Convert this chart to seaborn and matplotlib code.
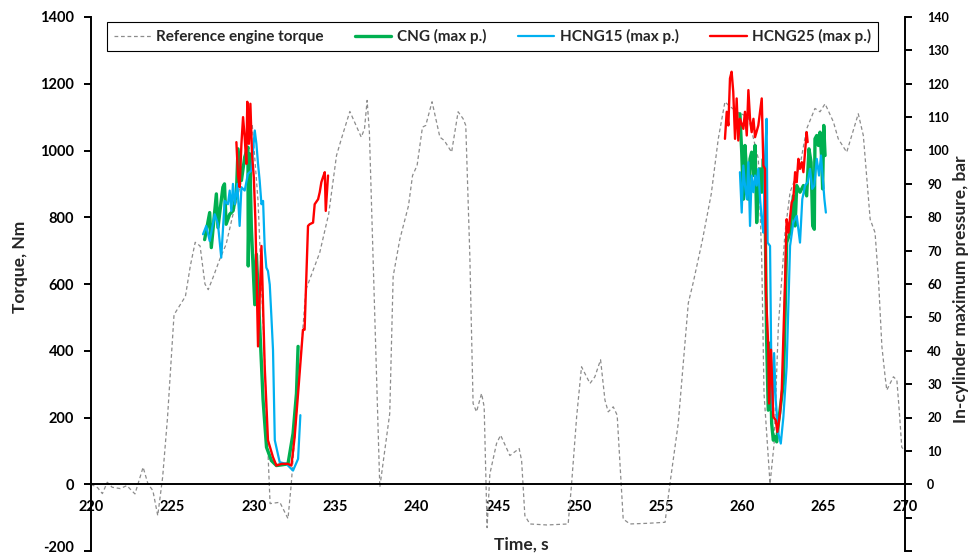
import numpy as np
import pandas as pd
import matplotlib
matplotlib.use("Agg")
import matplotlib.pyplot as plt
import matplotlib.transforms as mtransforms
from matplotlib.lines import Line2D
import seaborn as sns

# ---------------- data ----------------
ref_time = [220.0, 220.4, 220.7, 221.0, 221.3, 221.8, 222.2, 222.7, 223.2, 223.5, 223.8, 224.1,
            224.4, 224.7, 225.1, 225.8, 226.1, 226.4, 226.7, 227.0, 227.2, 227.5, 227.9, 228.3,
            228.7, 229.2, 229.6, 229.9, 230.26, 230.6, 230.9, 231.0, 231.6, 232.1, 232.3, 232.8,
            233.2, 234.05, 234.6, 235.08, 235.38, 235.9, 236.6, 236.8, 236.96, 237.1, 237.74,
            238.35, 238.56, 238.97, 239.5, 239.75, 240.03, 240.36, 240.56, 240.95, 241.43, 241.7,
            242.15, 242.55, 242.86, 243.02, 243.27, 243.47, 243.68, 243.99, 244.15, 244.33, 244.5,
            244.91, 245.16, 245.73, 246.3, 246.45, 246.65, 246.96, 248.0, 249.31, 249.52, 249.83,
            250.13, 250.65, 250.95, 251.3, 251.57, 251.77, 252.08, 252.32, 252.69, 253.1, 254.2,
            255.26, 255.56, 256.07, 256.69, 256.99, 257.55, 258.1, 258.53, 258.94, 259.15, 259.66,
            260.38, 260.99, 261.2, 261.34, 261.71, 261.96, 262.22, 262.63, 262.94, 263.55, 263.96,
            264.47, 264.78, 265.09, 265.6, 265.9, 266.42, 267.13, 267.44, 267.86, 268.16, 268.37,
            268.58, 268.78, 268.88, 269.29, 269.5, 269.66, 269.8, 270.0]
ref_torque = [0, -10, -28, 6, -9, -13, -4, -29, 51, 1, -19, -94,
              21, 200, 508, 563, 654, 725, 714, 600, 583, 620, 673, 719,
              804, 900, 1040, 1080, 849, 450, 60, -58, -54, -103, 0, 333,
              583, 694, 810, 985, 1035, 1117, 1040, 1065, 1150, 1055, -9,
              212, 623, 734, 834, 925, 955, 1070, 1075, 1146, 1040, 1030,
              995, 1116, 1095, 1075, 684, 242, 217, 272, 232, -130, 31,
              122, 147, 86, 107, 71, -94, -119, -122, -119, 1, 202,
              352, 302, 322, 373, 252, 217, 232, 207, -104, -119, -117,
              -114, 1, 182, 543, 604, 730, 870, 1035, 1146, 1136, 1116,
              1100, 975, 674, 272, 1, 122, 473, 754, 875, 955, 1065,
              1126, 1116, 1140, 1086, 1035, 995, 1110, 1045, 794, 754, 614,
              413, 322, 282, 322, 312, 212, 111, 100]

cng_time_a = [226.98, 227.29, 227.39, 227.7, 227.8, 228.1, 228.2, 228.3, 228.52, 228.72, 228.93,
              229.03, 229.24, 229.44, 229.64, 229.66, 229.75, 229.85, 230.06, 230.16, 230.36, 230.57,
              230.78, 231.08, 231.39, 231.7, 232.1, 232.41, 232.62, 232.72]
cng_p_a = [73.3, 81.4, 70.9, 87.0, 76.9, 89.0, 90.0, 77.9, 80.9, 81.9, 87.0,
           100.5, 91.0, 98.0, 101.0, 65.4, 99.0, 76.9, 53.8, 68.9, 47.8, 25.2,
           11.1, 7.1, 5.6, 5.8, 6.1, 15.2, 27.2, 41.3]
cng_time_b = [259.86, 259.97, 260.07, 260.17, 260.28, 260.38, 260.48, 260.58, 260.69, 260.79, 260.89,
              260.99, 261.1, 261.2, 261.3, 261.4, 261.5, 261.6, 261.71, 261.81, 261.91, 262.01,
              262.12, 262.22, 262.53, 262.63, 262.73, 262.94, 263.14, 263.25, 263.35, 263.55, 263.76,
              263.96, 264.1, 264.23, 264.33, 264.43, 264.47, 264.58, 264.68, 264.78, 264.88, 264.94,
              265.01, 265.09]
cng_p_b = [111.0, 99.5, 85.4, 101.5, 92.5, 85.4, 97.5, 99.5, 92.5, 101.5, 78.4,
           89.5, 94.5, 87.5, 97.5, 85.0, 43.3, 22.2, 42.3, 18.2, 13.2, 14.2,
           12.7, 18.2, 30.2, 50.0, 72.4, 75.4, 86.4, 77.4, 89.5, 87.5, 89.5,
           86.4, 100.5, 96.5, 77.4, 76.4, 103.5, 104.5, 101.5, 105.5, 97.5, 88.5,
           107.5, 98.5]

h15_time_a = [226.88, 227.08, 227.29, 227.6, 227.8, 228.0, 228.21, 228.41, 228.52, 228.62, 228.72,
              228.83, 228.99, 229.13, 229.24, 229.44, 229.64, 229.85, 230.06, 230.16, 230.26, 230.36,
              230.47, 230.57, 230.67, 230.77, 230.87, 230.98, 231.08, 231.18, 231.29, 231.59, 232.0,
              232.41, 232.72, 232.86]
h15_p_a = [74.9, 77.4, 72.9, 80.9, 77.9, 67.9, 84.9, 83.9, 88.0, 81.9, 90.0,
           83.9, 90.0, 77.4, 89.0, 88.0, 93.0, 94.0, 106.0, 102.0, 96.0, 91.0,
           83.9, 84.9, 70.9, 64.9, 63.9, 59.8, 50.3, 40.2, 13.2, 6.6, 6.1,
           4.1, 7.6, 20.7]
h15_time_b = [259.86, 259.97, 260.07, 260.17, 260.28, 260.38, 260.48, 260.58, 260.69, 260.79, 260.89,
              260.99, 261.1, 261.2, 261.3, 261.4, 261.5, 261.56, 261.71, 261.8, 261.88, 261.96,
              262.06, 262.22, 262.37, 262.53, 262.73, 262.94, 263.14, 263.35, 263.55, 263.69, 263.86,
              264.02, 264.17, 264.3, 264.43, 264.58, 264.72, 264.84, 264.92, 265.05, 265.14]
h15_p_b = [93.5, 81.4, 95.5, 89.5, 85.4, 96.5, 77.4, 92.5, 87.5, 92.5, 89.5,
           94.5, 85.4, 79.4, 75.4, 97.5, 109.5, 72.4, 71.4, 30.0, 22.0, 39.3,
           25.2, 15.2, 12.2, 20.2, 35.2, 71.4, 78.4, 80.4, 72.4, 85.4, 89.5,
           90.5, 94.5, 88.5, 89.5, 97.5, 92.5, 98.5, 93.5, 85.4, 81.4]

h25_time_a = [228.93, 229.03, 229.13, 229.24, 229.34, 229.44, 229.54, 229.6, 229.7, 229.79, 229.89,
              230.0, 230.1, 230.26, 230.47, 230.57, 230.67, 230.87, 231.18, 231.39, 231.7, 232.1,
              232.31, 232.51, 232.72, 233.02, 233.12, 233.33, 233.43, 233.64, 233.74, 233.95, 234.05,
              234.15, 234.25, 234.36, 234.42, 234.56]
h25_p_a = [102.5, 92.5, 89.0, 102.0, 110.0, 104.0, 96.0, 114.6, 102.0, 114.0, 99.0,
           92.0, 78.9, 41.3, 71.4, 53.3, 35.2, 13.2, 8.1, 5.6, 6.1, 6.1,
           5.6, 14.2, 27.2, 46.3, 46.3, 77.4, 77.9, 78.4, 83.9, 85.4, 87.5,
           90.5, 92.0, 93.5, 81.9, 92.5]
h25_time_b = [258.94, 259.05, 259.15, 259.25, 259.35, 259.45, 259.56, 259.66, 259.76, 259.86, 260.07,
              260.17, 260.28, 260.38, 260.48, 260.58, 260.69, 260.79, 260.99, 261.2, 261.3, 261.4,
              261.46, 261.6, 261.65, 261.77, 261.91, 262.06, 262.16, 262.32, 262.43, 262.63, 262.73,
              262.84, 263.04, 263.14, 263.25, 263.35, 263.45, 263.55, 263.66, 263.76, 263.96, 264.02]
h25_p_b = [103.5, 111.6, 107.5, 121.6, 123.6, 117.6, 103.5, 115.6, 103.0, 109.5, 106.5,
           111.6, 104.5, 118.1, 109.5, 105.5, 109.5, 104.0, 107.5, 115.6, 95.5, 94.5,
           57.3, 41.3, 24.2, 40.3, 20.2, 19.2, 15.7, 21.2, 28.2, 60.4, 79.4,
           75.4, 84.5, 85.4, 93.5, 90.5, 97.5, 94.5, 96.5, 93.5, 105.5, 102.5]

series_names = ["CNG (max p.)", "HCNG15 (max p.)", "HCNG25 (max p.)"]
ref_name = "Reference engine torque"
x_ticks = list(range(220, 271, 5))
left_ticks = list(range(-200, 1401, 200))
right_ticks = list(range(-20, 141, 10))

# ---------------- build tables ----------------
ref_df = pd.DataFrame({"time": ref_time, "value": ref_torque})
rows = []
for name, segs in zip(series_names,
                      [[(cng_time_a, cng_p_a), (cng_time_b, cng_p_b)],
                       [(h15_time_a, h15_p_a), (h15_time_b, h15_p_b)],
                       [(h25_time_a, h25_p_a), (h25_time_b, h25_p_b)]]):
    for k, (t, p) in enumerate(segs):
        rows.append(pd.DataFrame({"series": name, "segment": k, "time": t, "value": p}))
p_df = pd.concat(rows, ignore_index=True)

# ---------------- style ----------------
sns.set_style("white")
plt.rcParams["font.family"] = ["Lato", "DejaVu Sans"]
plt.rcParams["font.weight"] = "bold"

colors = {"CNG (max p.)": "#00B050", "HCNG15 (max p.)": "#00B0F0", "HCNG25 (max p.)": "#FF0000"}
widths = {"CNG (max p.)": 2.4, "HCNG15 (max p.)": 1.6, "HCNG25 (max p.)": 1.7}
ref_color = "#8c8c8c"

W, H = 971, 555
fig = plt.figure(figsize=(W / 100, H / 100), dpi=100)
L, R, T, B = 91, 905, 17, 551
ax = fig.add_axes([L / W, (H - B) / H, (R - L) / W, (B - T) / H])
ax2 = ax.twinx()

sns.lineplot(data=ref_df, x="time", y="value", ax=ax, color=ref_color, linewidth=0.9,
             dashes=False, estimator=None, sort=False, legend=False)
ax.lines[-1].set_dashes((3, 2.2))

for name in series_names:
    sub = p_df[p_df["series"] == name]
    sns.lineplot(data=sub, x="time", y="value", units="segment", estimator=None, ax=ax2,
                 color=colors[name], linewidth=widths[name], legend=False, sort=False)

ax.set_xlim(220, 270)
ax.set_ylim(-200, 1400)
ax2.set_ylim(-20, 140)
ax.set_xticks(x_ticks)
ax.set_xticklabels([str(v) for v in x_ticks])
ax.set_yticks(left_ticks)
ax.set_yticklabels([str(v) for v in left_ticks])
ax2.set_yticks(right_ticks)
ax2.set_yticklabels([str(v) if v >= 0 else "" for v in right_ticks])
ax.set_xlabel("")
ax.set_ylabel("")
ax2.set_ylabel("")

for s in ["top", "right"]:
    ax.spines[s].set_visible(False)
ax.spines["bottom"].set_position(("data", 0))
for s in ["top", "left", "bottom"]:
    ax2.spines[s].set_visible(False)
for sp in [ax.spines["left"], ax.spines["bottom"], ax2.spines["right"]]:
    sp.set_color("black")
    sp.set_linewidth(1.4)

ax.tick_params(axis="y", direction="out", length=5, width=1.4, labelsize=10.5, pad=7, colors="black")
ax.tick_params(axis="x", direction="out", length=5, width=1.4, labelsize=10.5, pad=6, colors="black")
ax2.tick_params(axis="y", direction="out", length=5, width=1.4, labelsize=9, pad=11, colors="black")
for lab in ax.get_xticklabels() + ax.get_yticklabels() + ax2.get_yticklabels():
    lab.set_fontweight("bold")

# keep the lowest left tick label inside the canvas
low_lab = ax.get_yticklabels()[0]
low_lab.set_transform(low_lab.get_transform() +
                      mtransforms.ScaledTranslation(0, 5 / 100, fig.dpi_scale_trans))

fig.text(19.5 / W, 1 - 267 / H, "Torque, Nm", rotation=90, ha="center", va="center",
         fontsize=12.5, fontweight="bold")
fig.text(961 / W, 1 - 289 / H, "In-cylinder maximum pressure, bar", rotation=90, ha="center",
         va="center", fontsize=12.5, fontweight="bold")
fig.text(521 / W, 1 - 545 / H, "Time, s", ha="center", va="center", fontsize=12.5,
         fontweight="bold")

handles = [Line2D([], [], color=ref_color, lw=0.9, dashes=(3, 2.2))]
handles += [Line2D([], [], color=colors[n], lw=widths[n]) for n in series_names]
labels = [ref_name] + series_names
x0 = (107 - L) / (R - L)
x1 = (878 - L) / (R - L)
ytop = (B - 22) / (B - T)
leg = ax2.legend(handles, labels, ncol=4, loc="upper left",
                 bbox_to_anchor=(x0, ytop - 0.06, x1 - x0, 0.06), mode="expand",
                 frameon=True, fancybox=False, edgecolor="black", framealpha=1,
                 borderaxespad=0, handlelength=2.4, handletextpad=0.35,
                 borderpad=0.45, prop={"weight": "bold", "size": 11})
leg.get_frame().set_linewidth(0.8)

fig.savefig("out.png", dpi=100)
